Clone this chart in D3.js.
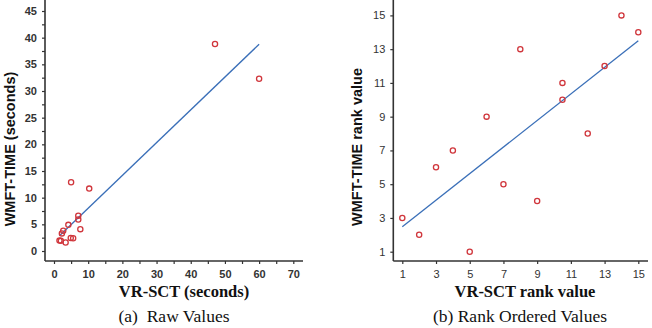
<!DOCTYPE html>
<html>
<head>
<meta charset="utf-8">
<script src="https://cdn.jsdelivr.net/npm/d3@7"></script>
<style>
	body { margin: 0; background: #fff; }
	svg { display: block; }
	.axis text { fill: #333; font-family: "Liberation Sans", Arial, sans-serif; font-size: 11px; }
	.axis line { stroke: #333; stroke-width: 1.2; }
	.axis-line { stroke: #333; stroke-width: 1.6; }
	.ytitle { font-family: "Liberation Sans", Arial, sans-serif; font-weight: bold; fill: #111; }
	.xtitle, .caption { font-family: "Liberation Serif", "Times New Roman", serif; fill: #111; white-space: pre; }
	.xtitle { font-weight: bold; }
</style>
</head>
<body>
<div id="chart"></div>
<script>
// (a) raw values
var rawVR = [47.1, 60.0, 5.0, 10.3, 7.1, 7.1, 7.7, 4.2, 2.7, 2.3, 4.9, 5.6, 1.6, 2.0, 3.4];
var rawWMFT = [38.8, 32.3, 12.9, 11.7, 6.6, 5.9, 4.1, 4.9, 3.8, 3.3, 2.45, 2.4, 1.95, 1.9, 1.6];
var rawFit = {intercept: 1.86, slope: 0.615};
var rawXTicks = [0, 10, 20, 30, 40, 50, 60, 70];
var rawYTicks = [0, 5, 10, 15, 20, 25, 30, 35, 40, 45];

// (b) rank ordered values
var rankVR = [1, 2, 3, 4, 5, 6, 7, 8, 9, 10.5, 10.5, 12, 13, 14, 15];
var rankWMFT = [3, 2, 6, 7, 1, 9, 5, 13, 4, 11, 10, 8, 12, 15, 14];
var rankFit = {intercept: 1.69, slope: 0.787};
var rankTicks = [1, 3, 5, 7, 9, 11, 13, 15];

var svg = d3.select("#chart").append("svg")
		.attr("width", 652)
		.attr("height", 328);

function panel(o) {
	var g = svg.append("g");

	var xScale = d3.scaleLinear().domain(o.xDomain).range(o.xRange);
	var yScale = d3.scaleLinear().domain(o.yDomain).range(o.yRange);

	// minor ticks (no labels)
	g.append("g")
			.attr("class", "axis")
			.attr("transform", "translate(0," + o.axisY + ")")
			.call(d3.axisBottom(xScale).tickValues(o.xMinor).tickSize(3).tickFormat(""));
	g.append("g")
			.attr("class", "axis")
			.attr("transform", "translate(" + o.axisX + ",0)")
			.call(d3.axisLeft(yScale).tickValues(o.yMinor).tickSize(3).tickFormat(""));

	// labelled ticks
	g.append("g")
			.attr("class", "axis")
			.attr("transform", "translate(0," + o.axisY + ")")
			.call(d3.axisBottom(xScale).tickValues(o.xTicks).tickSize(3).tickPadding(6));
	g.append("g")
			.attr("class", "axis")
			.attr("transform", "translate(" + o.axisX + ",0)")
			.call(d3.axisLeft(yScale).tickValues(o.yTicks).tickSize(3).tickPadding(5));

	g.selectAll(".domain").remove();
	g.selectAll(".axis text").style("font-weight", o.bold ? "bold" : "normal");

	// axis lines run past the data range
	g.append("line").attr("class", "axis-line")
			.attr("x1", o.axisX).attr("x2", o.axisX)
			.attr("y1", 0).attr("y2", o.axisY);
	g.append("line").attr("class", "axis-line")
			.attr("x1", o.axisX).attr("x2", o.axisEnd)
			.attr("y1", o.axisY).attr("y2", o.axisY);

	// fit line
	var ext = d3.extent(o.x);
	g.append("line")
			.attr("x1", xScale(ext[0])).attr("y1", yScale(o.fit.intercept + o.fit.slope * ext[0]))
			.attr("x2", xScale(ext[1])).attr("y2", yScale(o.fit.intercept + o.fit.slope * ext[1]))
			.style("stroke", "#3a6fb8")
			.style("stroke-width", 1.3);

	// points
	g.selectAll(".pt")
			.data(o.x.map(function(d, i) { return {x: d, y: o.y[i]}; }))
		.enter().append("circle")
			.attr("class", "pt")
			.attr("cx", function(d) { return xScale(d.x); })
			.attr("cy", function(d) { return yScale(d.y); })
			.attr("r", 2.6)
			.style("fill", "none")
			.style("stroke", "#d0363c")
			.style("stroke-width", 1.3);

	// titles
	g.append("text")
			.attr("class", "ytitle")
			.attr("transform", "translate(" + o.yTitleX + "," + o.yTitleY + ") rotate(-90)")
			.attr("text-anchor", "middle")
			.style("font-size", o.yTitleSize + "px")
			.text(o.yTitle);
	g.append("text")
			.attr("class", "xtitle")
			.attr("x", o.xTitleX).attr("y", 297)
			.attr("text-anchor", "middle")
			.style("font-size", "16.5px")
			.text(o.xTitle);
	g.append("text")
			.attr("class", "caption")
			.attr("x", o.captionX).attr("y", 322)
			.attr("text-anchor", "middle")
			.style("font-size", "17.5px")
			.text(o.caption);
}

panel({
	x: rawVR, y: rawWMFT, fit: rawFit,
	xDomain: [0, 70], xRange: [54, 293.3],
	yDomain: [0, 45], yRange: [251, 11],
	xTicks: rawXTicks, yTicks: rawYTicks,
	xMinor: d3.range(5, 75, 10), yMinor: d3.range(2.5, 47.5, 5),
	axisX: 45, axisY: 261, axisEnd: 303,
	bold: true,
	yTitle: "WMFT-TIME (seconds)", yTitleX: 15, yTitleY: 149, yTitleSize: 14.5,
	xTitle: "VR-SCT (seconds)", xTitleX: 184,
	caption: "(a)  Raw Values", captionX: 174
});

panel({
	x: rankVR, y: rankWMFT, fit: rankFit,
	xDomain: [1, 15], xRange: [402.3, 638.3],
	yDomain: [1, 15], yRange: [251.7, 15.4],
	xTicks: rankTicks, yTicks: rankTicks,
	xMinor: [], yMinor: [],
	axisX: 393.3, axisY: 261, axisEnd: 648,
	bold: false,
	yTitle: "WMFT-TIME rank value", yTitleX: 362, yTitleY: 147, yTitleSize: 14.5,
	xTitle: "VR-SCT rank value", xTitleX: 525,
	caption: "(b) Rank Ordered Values", captionX: 520
});
</script>
</body>
</html>
